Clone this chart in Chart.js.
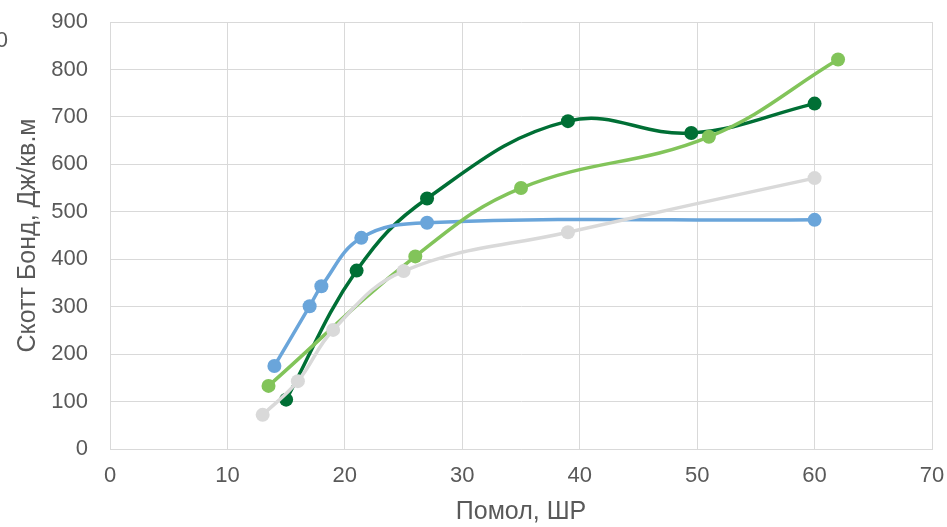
<!DOCTYPE html>
<html lang="ru">
<head>
    <meta charset="UTF-8">
    <script src="https://cdn.jsdelivr.net/npm/chart.js"></script>
    <title>Скотт Бонд</title>
    <style>
        html, body { margin: 0; padding: 0; background: #fff; }
        #wrap { width: 947px; height: 527px; }
    </style>
</head>
<body>
    <div id="wrap"><canvas id="chart" width="947" height="527"></canvas></div>
    <script>
// data
const blueX = [14, 17, 18, 21.4, 27, 60];
const blueY = [175, 301, 343, 445, 477, 483];
const darkX = [15, 21, 27, 39, 49.5, 60];
const darkY = [104, 376, 528, 691, 666, 728];
const lightX = [13.5, 26, 35, 51, 62];
const lightY = [133, 406, 550, 658, 821];
const grayX = [13, 16, 19, 25, 39, 60];
const grayY = [72, 143, 251, 375, 457, 571];

const xTicks = [0, 10, 20, 30, 40, 50, 60, 70];
const yTicks = [0, 100, 200, 300, 400, 500, 600, 700, 800, 900];

function pts(xs, ys) {
    return xs.map((x, i) => ({ x: x, y: ys[i] }));
}

function series(xs, ys, color, order) {
    return {
        data: pts(xs, ys),
        borderColor: color,
        backgroundColor: color,
        borderWidth: 3.5,
        pointRadius: 7,
        pointHoverRadius: 7,
        pointBorderWidth: 0,
        tension: 0.4,
        order: order
    };
}

const textColor = '#595959';
const gridColor = '#d9d9d9';
const fontFam = '"Liberation Sans", Arial, sans-serif';

// the cut off label at the top left corner
const cornerText = {
    id: 'cornerText',
    afterDraw(chart) {
        const c = chart.ctx;
        c.save();
        c.fillStyle = textColor;
        c.font = '22px ' + fontFam;
        c.textAlign = 'right';
        c.textBaseline = 'middle';
        c.fillText('0', 8, 41);
        c.restore();
    }
};

new Chart(document.getElementById('chart'), {
    type: 'scatter',
    data: {
        datasets: [
            series(blueX, blueY, '#6aa5da', 3),
            series(darkX, darkY, '#006f35', 4),
            series(lightX, lightY, '#82c45a', 2),
            series(grayX, grayY, '#d9d9d9', 1)
        ]
    },
    options: {
        responsive: false,
        animation: false,
        showLine: true,
        layout: { padding: { top: 22, right: 15, left: 0, bottom: 0 } },
        plugins: {
            legend: { display: false },
            tooltip: { enabled: false }
        },
        scales: {
            x: {
                type: 'linear',
                min: 0,
                max: 70,
                afterBuildTicks(axis) { axis.ticks = xTicks.map(v => ({ value: v })); },
                afterFit(axis) {
                    // fixed box, no extra label overflow padding
                    axis.height = 78;
                    axis.paddingLeft = 0;
                    axis.paddingRight = 0;
                },
                grid: { color: gridColor, lineWidth: 1, drawTicks: false },
                border: { color: gridColor, width: 1 },
                ticks: { color: textColor, padding: 14, font: { family: fontFam, size: 22 } },
                title: {
                    display: true,
                    text: 'Помол, ШР',
                    color: textColor,
                    padding: { top: 0, bottom: 0 },
                    font: { family: fontFam, size: 25 }
                }
            },
            y: {
                type: 'linear',
                min: 0,
                max: 900,
                afterBuildTicks(axis) { axis.ticks = yTicks.map(v => ({ value: v })); },
                afterFit(axis) {
                    axis.width = 110;
                    axis.paddingTop = 0;
                    axis.paddingBottom = 0;
                },
                grid: { color: gridColor, lineWidth: 1, drawTicks: false },
                border: { color: gridColor, width: 1 },
                ticks: { color: textColor, padding: 22, font: { family: fontFam, size: 22 } },
                title: {
                    display: true,
                    text: 'Скотт Бонд, Дж/кв.м',
                    color: textColor,
                    padding: { top: 13, bottom: 0 },
                    font: { family: fontFam, size: 25 }
                }
            }
        }
    },
    plugins: [cornerText]
});
    </script>
</body>
</html>
